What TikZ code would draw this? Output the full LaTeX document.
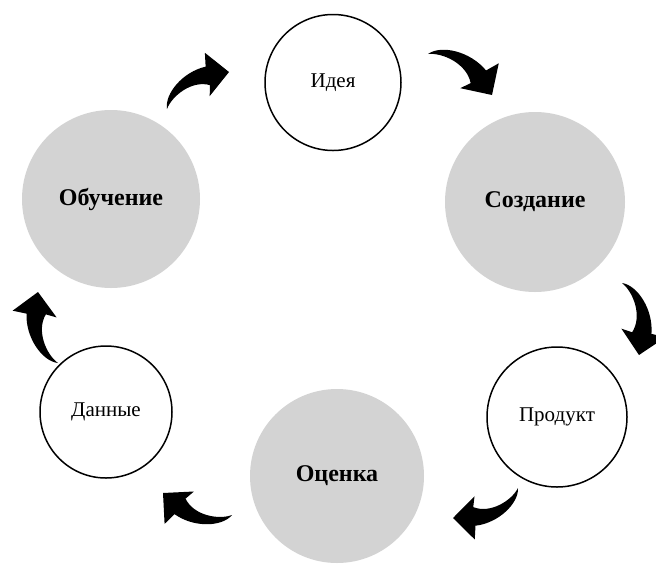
\documentclass[tikz,border=0pt]{standalone}
\usepackage{fontspec}
\setmainfont{Liberation Serif}
\usetikzlibrary{calc}
\definecolor{cgray}{HTML}{D3D3D3}
\newcommand\cycarrow[2]{%
  \fill[arrowfill] (#1)
    .. controls ($(#1)!0.215!68.2:(#2)$) and ($(#1)!0.558!36.3:(#2)$) .. ($(#1)!0.794!16.8:(#2)$)
    -- ($(#1)!0.939!25.2:(#2)$) -- (#2) -- ($(#1)!0.618!-14.0:(#2)$) -- ($(#1)!0.680!-1.7:(#2)$)
    .. controls ($(#1)!0.528!18.8:(#2)$) and ($(#1)!0.192!38.7:(#2)$) .. (#1) -- cycle;}
\begin{document}
\begin{tikzpicture}[x=1pt,y=1pt,
  whitecirc/.style={circle,draw=black,line width=1.5pt,fill=white,inner sep=0pt,
    font=\fontsize{21}{25}\selectfont},
  graycirc/.style={circle,fill=cgray,inner sep=0pt,
    font=\fontsize{24}{28}\selectfont\bfseries},
  arrowfill/.style={fill=black}]
\useasboundingbox (0,0) rectangle (656,-566);
\node[whitecirc, minimum size=136pt] (idea) at (333,-82.5) {Идея};
\node[graycirc, minimum size=180pt] (create) at (535,-202) {Создание};
\node[whitecirc, minimum size=140pt] (product) at (557,-417) {Продукт};
\node[graycirc, minimum size=174pt] (eval) at (337,-476) {Оценка};
\node[whitecirc, minimum size=132pt] (data) at (106,-412) {Данные};
\node[graycirc, minimum size=178pt] (learn) at (111,-199) {Обучение};
% arrows: tail, tip
\coordinate (t1) at (167,-109); \coordinate (p1) at (229,-72);
\coordinate (t2) at (428,-54);  \coordinate (p2) at (492,-95);
\coordinate (t3) at (622,-283); \coordinate (p3) at (639,-355);
\coordinate (t4) at (518,-488); \coordinate (p4) at (453,-518);
\coordinate (t5) at (232,-515); \coordinate (p5) at (163,-493);
\coordinate (t6) at (58,-363);  \coordinate (p6) at (38,-292);
\cycarrow{t1}{p1}
\cycarrow{t2}{p2}
\cycarrow{t3}{p3}
\cycarrow{t4}{p4}
\cycarrow{t5}{p5}
\cycarrow{t6}{p6}
\end{tikzpicture}
\end{document}
